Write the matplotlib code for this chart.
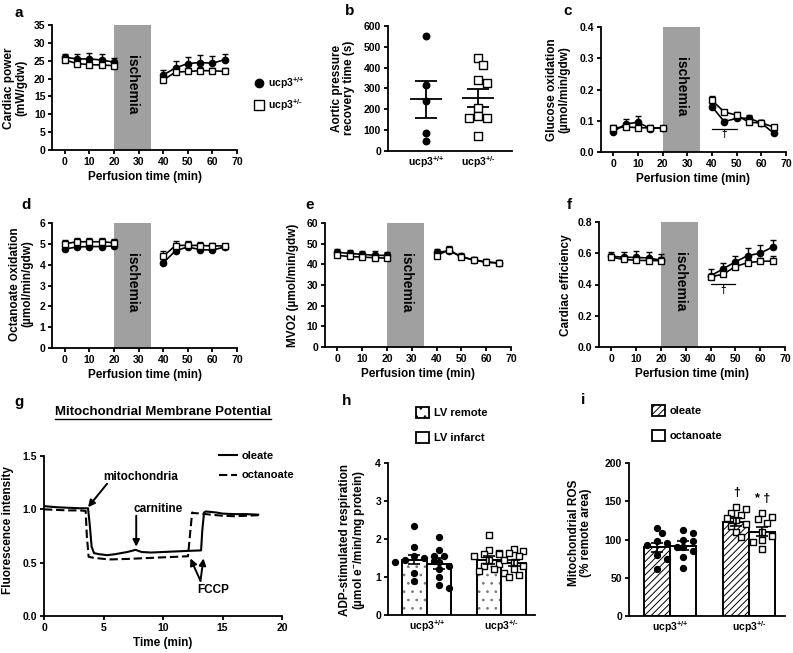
import matplotlib
matplotlib.use('Agg')
import matplotlib.pyplot as plt
from matplotlib.lines import Line2D
from matplotlib.patches import Patch
import numpy as np

plt.rcParams['font.family'] = ['Liberation Sans', 'DejaVu Sans']
plt.rcParams['font.weight'] = 'bold'
plt.rcParams['axes.labelweight'] = 'bold'
plt.rcParams['mathtext.fontset'] = 'custom'
plt.rcParams['mathtext.rm'] = 'Liberation Sans:bold'
plt.rcParams['mathtext.bf'] = 'Liberation Sans:bold'
plt.rcParams['mathtext.default'] = 'rm'
plt.rcParams['axes.linewidth'] = 1.3
plt.rcParams['xtick.major.width'] = 1.3
plt.rcParams['ytick.major.width'] = 1.3
plt.rcParams['xtick.major.size'] = 3
plt.rcParams['ytick.major.size'] = 3
plt.rcParams['xtick.labelsize'] = 7.5
plt.rcParams['ytick.labelsize'] = 7.5
plt.rcParams['hatch.linewidth'] = 0.7

W, H = 793, 653
BAND = '#a0a0a0'

# ---- data: perfusion time courses ----
t_pre = [0, 5, 10, 15, 20]
t_post = [40, 45, 50, 55, 60, 65]

power_wt = [26.0, 25.5, 25.5, 25.2, 24.6, 21.0, 23.0, 24.2, 24.5, 24.3, 25.3]
power_wt_err = [1.0, 1.5, 1.8, 1.6, 1.2, 1.5, 2.0, 1.8, 2.0, 2.0, 1.5]
power_ko = [25.2, 24.2, 23.9, 23.8, 23.6, 19.6, 21.8, 22.0, 22.2, 22.2, 22.0]
power_ko_err = [0.8, 0.9, 0.9, 0.8, 0.8, 0.8, 0.9, 0.9, 1.0, 0.9, 1.0]

gluc_wt = [0.065, 0.090, 0.095, 0.075, 0.078, 0.145, 0.097, 0.108, 0.108, 0.093, 0.060]
gluc_wt_err = [0.008, 0.015, 0.020, 0.008, 0.005, 0.010, 0.008, 0.008, 0.010, 0.008, 0.005]
gluc_ko = [0.077, 0.080, 0.078, 0.077, 0.077, 0.165, 0.128, 0.118, 0.095, 0.093, 0.080]
gluc_ko_err = [0.008, 0.008, 0.008, 0.008, 0.005, 0.015, 0.008, 0.010, 0.008, 0.008, 0.008]

octa_wt = [4.75, 4.85, 4.87, 4.87, 4.90, 4.08, 4.67, 4.85, 4.72, 4.70, 4.85]
octa_wt_err = [0.1, 0.1, 0.1, 0.1, 0.1, 0.1, 0.1, 0.1, 0.1, 0.1, 0.1]
octa_ko = [5.00, 5.10, 5.10, 5.10, 5.05, 4.40, 4.92, 4.93, 4.92, 4.90, 4.90]
octa_ko_err = [0.2, 0.2, 0.2, 0.2, 0.2, 0.25, 0.2, 0.2, 0.15, 0.15, 0.1]

mvo2_wt = [45.8, 45.3, 44.8, 44.4, 44.3, 45.8, 46.5, 43.8, 42.0, 41.0, 40.8]
mvo2_wt_err = [1.5, 1.5, 1.5, 2.0, 1.5, 1.5, 2.0, 1.5, 1.5, 1.5, 1.5]
mvo2_ko = [44.3, 43.8, 43.5, 43.2, 43.0, 44.2, 47.0, 43.5, 42.2, 41.2, 40.5]
mvo2_ko_err = [1.0, 1.0, 1.0, 1.0, 1.0, 1.0, 2.0, 1.0, 1.0, 1.0, 1.0]

eff_wt = [0.580, 0.575, 0.573, 0.570, 0.555, 0.455, 0.500, 0.545, 0.585, 0.600, 0.640]
eff_wt_err = [0.03, 0.035, 0.04, 0.04, 0.04, 0.045, 0.04, 0.04, 0.05, 0.055, 0.045]
eff_ko = [0.575, 0.560, 0.555, 0.553, 0.553, 0.450, 0.465, 0.515, 0.540, 0.548, 0.550]
eff_ko_err = [0.02, 0.02, 0.02, 0.02, 0.02, 0.02, 0.02, 0.02, 0.02, 0.02, 0.035]

# ---- data: aortic pressure recovery ----
recov_wt = [550, 315, 240, 88, 47]
recov_ko = [445, 415, 340, 325, 208, 170, 160, 158, 73]

# ---- data: membrane potential traces ----
ole_t = [0, 1, 2, 3, 3.7, 3.85, 4.0, 4.2, 4.6, 5.3, 6, 7, 7.7, 8.2, 9, 10, 11, 12,
         13.2, 13.3, 13.45, 13.6, 14.5, 15, 16, 17, 18]
ole_v = [1.03, 1.02, 1.015, 1.01, 1.01, 0.85, 0.65, 0.59, 0.58, 0.57, 0.58, 0.60, 0.62,
         0.60, 0.595, 0.60, 0.605, 0.61, 0.615, 0.80, 0.97, 0.98, 0.97, 0.96, 0.955, 0.955, 0.95]
oct_t = [0, 1, 2, 3, 3.5, 3.6, 3.75, 4.2, 5.5, 7, 8, 10, 12.1, 12.3, 12.45, 12.6, 13.3,
         14, 15, 16, 17, 18]
oct_v = [1.0, 0.995, 0.99, 0.99, 0.985, 0.75, 0.555, 0.545, 0.53, 0.535, 0.54, 0.55, 0.56,
         0.80, 0.97, 0.965, 0.96, 0.95, 0.94, 0.935, 0.94, 0.945]

# ---- data: respiration (h) and ROS (i) ----
groups = [r'ucp3$^{\text{+/+}}$', r'ucp3$^{\text{+/-}}$']
resp_remote = [1.45, 1.45]
resp_remote_err = [0.12, 0.10]
resp_infarct = [1.35, 1.38]
resp_infarct_err = [0.14, 0.08]
resp_pts_remote = [[2.35, 1.8, 1.55, 1.5, 1.45, 1.42, 1.4, 1.1, 0.9],
                   [2.1, 1.72, 1.62, 1.6, 1.55, 1.45, 1.35, 1.3, 1.2, 1.15, 1.1]]
resp_pts_infarct = [[2.05, 1.7, 1.55, 1.55, 1.4, 1.3, 1.2, 1.0, 0.8, 0.72],
                    [1.75, 1.68, 1.62, 1.6, 1.55, 1.45, 1.4, 1.3, 1.2, 1.05, 1.0]]

ros_oleate = [90, 123]
ros_oleate_err = [6, 5]
ros_octanoate = [92, 110]
ros_octanoate_err = [6, 6]
ros_pts_oleate = [[115, 108, 98, 95, 93, 90, 80, 75, 62],
                  [143, 140, 135, 132, 128, 125, 120, 118, 110, 103]]
ros_pts_octanoate = [[113, 108, 100, 98, 90, 85, 77, 63],
                     [135, 130, 127, 122, 110, 105, 100, 97, 87]]

fig = plt.figure(figsize=(W / 100, H / 100), dpi=100, facecolor='white')


def box(l, t, r, b):
    return [l / W, 1 - b / H, (r - l) / W, (b - t) / H]


def px(x, y):
    return x / W, 1 - y / H


def style(ax):
    ax.spines['top'].set_visible(False)
    ax.spines['right'].set_visible(False)
    ax.tick_params(direction='out', pad=2)
    for lab in ax.get_xticklabels() + ax.get_yticklabels():
        lab.set_fontweight('bold')


def ylab(x, y, s, size=8.5):
    fig.text(*px(x, y), s, rotation=90, ha='center', va='center',
             multialignment='center', fontsize=size, fontweight='bold', linespacing=1.05)


def panel(x, y, s):
    fig.text(*px(x, y), s, ha='center', va='center', fontsize=11, fontweight='bold')


def swarm(ax, vals, center, size=6.5, step=0.6):
    # simple non-overlapping layout in pixel space
    bb = ax.get_window_extent()
    x0, x1 = ax.get_xlim()
    y0, y1 = ax.get_ylim()
    sx = bb.width / (x1 - x0)
    sy = bb.height / (y1 - y0)
    placed = []
    xs = []
    for v in vals:
        for k in [0, 1, -1, 2, -2, 3, -3, 4, -4]:
            dx = k * size * step
            ok = all((dx - p[0]) ** 2 + ((v - p[1]) * sy) ** 2 >= size ** 2 for p in placed)
            if ok:
                break
        placed.append((dx, v))
        xs.append(center + dx / sx)
    return xs


def timecourse(ax, wt, wt_err, ko, ko_err, ymax, ystep, fmt):
    ax.axvspan(20, 35, color=BAND, zorder=0, lw=0)
    for sl, tt in [(slice(0, 5), t_pre), (slice(5, 11), t_post)]:
        w = np.array(wt[sl]); we = np.array(wt_err[sl])
        k = np.array(ko[sl]); ke = np.array(ko_err[sl])
        ax.errorbar(tt, w, yerr=[np.zeros_like(we), we], fmt='none', ecolor='black',
                    elinewidth=1, capsize=2.5, capthick=1, zorder=2)
        ax.errorbar(tt, k, yerr=[np.zeros_like(ke), ke], fmt='none', ecolor='black',
                    elinewidth=1, capsize=2.5, capthick=1, zorder=2)
        ax.plot(tt, w, '-o', color='black', lw=1.2, ms=4.5, zorder=3)
        ax.plot(tt, k, '-s', color='black', mfc='white', mec='black', mew=1,
                lw=1.2, ms=5, zorder=4)
    ax.set_xlim(-5, 70)
    ax.set_ylim(0, ymax)
    ax.set_xticks(range(0, 71, 10))
    ax.set_yticks(np.arange(0, ymax + ystep / 2, ystep))
    ax.yaxis.set_major_formatter(matplotlib.ticker.FormatStrFormatter(fmt))
    ax.text(27.5, ymax * 0.52, 'ischemia', rotation=-90, ha='center', va='center',
            fontsize=10, fontweight='bold')
    ax.set_xlabel('Perfusion time (min)', fontsize=8.5, labelpad=3)
    style(ax)


# ---- a ----
ax_a = fig.add_axes(box(52.5, 25, 237, 150))
timecourse(ax_a, power_wt, power_wt_err, power_ko, power_ko_err, 35, 5, '%d')
ylab(15, 88, 'Cardiac power\n(mW/gdw)')
panel(19, 13, 'a')
hdl = [Line2D([], [], marker='o', ls='none', color='black', ms=6),
       Line2D([], [], marker='s', ls='none', mfc='white', mec='black', mew=1, ms=6.5)]
ax_a.legend(hdl, [r'ucp3$^{\text{+/+}}$', r'ucp3$^{\text{+/-}}$'], loc='upper left',
            bbox_to_anchor=px(255, 75), bbox_transform=fig.transFigure, frameon=False,
            fontsize=7.5, handlelength=0.8, handletextpad=0.4, labelspacing=0.6,
            borderpad=0, borderaxespad=0)

# ---- b ----
ax_b = fig.add_axes(box(388, 26, 512, 151))
ax_b.set_xlim(-0.73, 1.65)
ax_b.set_ylim(0, 600)
ax_b.set_yticks(range(0, 601, 100))
ax_b.set_xticks([0, 1])
ax_b.set_xticklabels(groups, fontsize=7.5)
ax_b.tick_params(axis='x', length=0, pad=6)
for i, vals in enumerate([recov_wt, recov_ko]):
    v = np.array(vals)
    m = v.mean()
    se = v.std(ddof=1) / np.sqrt(len(v))
    ax_b.hlines(m, i - 0.31, i + 0.31, color='black', lw=1.3)
    ax_b.errorbar([i], [m], yerr=[[se], [se]], fmt='none', ecolor='black',
                  elinewidth=1.3, capsize=8, capthick=1.3)
    xs = swarm(ax_b, vals, i, size=7.5)
    if i == 0:
        ax_b.scatter(xs, vals, s=22, color='black', zorder=3)
    else:
        ax_b.scatter(xs, vals, s=28, marker='s', facecolor='white', edgecolor='black',
                     lw=1, zorder=3)
style(ax_b)
ylab(343, 88, 'Aortic pressure\nrecovery time (s)')
panel(350, 11, 'b')

# ---- c ----
ax_c = fig.add_axes(box(601, 27, 786, 152))
timecourse(ax_c, gluc_wt, gluc_wt_err, gluc_ko, gluc_ko_err, 0.4, 0.1, '%.1f')
ax_c.plot([40, 50], [0.074, 0.074], color='black', lw=0.9)
ax_c.text(45, 0.058, '†', ha='center', va='center', fontsize=7)
ylab(558, 90, 'Glucose oxidation\n(µmol/min/gdw)')
panel(568, 11, 'c')

# ---- d ----
ax_d = fig.add_axes(box(52.5, 223, 237, 348))
timecourse(ax_d, octa_wt, octa_wt_err, octa_ko, octa_ko_err, 6, 1, '%d')
ylab(21, 284, 'Octanoate oxidation\n(µmol/min/gdw)')
panel(26, 205, 'd')

# ---- e ----
ax_e = fig.add_axes(box(325, 223, 511, 347))
timecourse(ax_e, mvo2_wt, mvo2_wt_err, mvo2_ko, mvo2_ko_err, 60, 10, '%d')
ylab(293, 285, 'MVO2 (µmol/min/gdw)')
panel(310, 205, 'e')

# ---- f ----
ax_f = fig.add_axes(box(599, 222, 785, 347))
timecourse(ax_f, eff_wt, eff_wt_err, eff_ko, eff_ko_err, 0.8, 0.2, '%.1f')
ax_f.plot([40, 50], [0.403, 0.403], color='black', lw=0.9)
ax_f.text(45, 0.365, '†', ha='center', va='center', fontsize=7)
ylab(566, 285, 'Cardiac efficiency')
panel(569, 205, 'f')

# ---- g ----
ax_g = fig.add_axes(box(44, 456, 282, 616))
ax_g.plot(ole_t, ole_v, color='black', lw=1.5, label='oleate')
ax_g.plot(oct_t, oct_v, color='black', lw=1.5, ls=(0, (4, 1.8)), label='octanoate')
ax_g.set_xlim(0, 20)
ax_g.set_ylim(0, 1.5)
ax_g.set_xticks([0, 5, 10, 15, 20])
ax_g.set_yticks([0, 0.5, 1.0, 1.5])
ax_g.yaxis.set_major_formatter(matplotlib.ticker.FormatStrFormatter('%.1f'))
ax_g.set_xlabel('Time (min)', fontsize=8.5, labelpad=3)
arw = dict(arrowstyle='-|>', color='black', lw=1.4, mutation_scale=10, shrinkA=0, shrinkB=0)
ax_g.annotate('', xy=(3.7, 1.02), xytext=(5.3, 1.24), arrowprops=arw)
ax_g.text(8.1, 1.30, 'mitochondria', ha='center', va='center', fontsize=8.5)
ax_g.text(9.6, 1.0, 'carnitine', ha='center', va='center', fontsize=8.5)
ax_g.annotate('', xy=(7.75, 0.65), xytext=(7.75, 0.94), arrowprops=arw)
ax_g.annotate('', xy=(12.3, 0.54), xytext=(13.15, 0.33), arrowprops=arw)
ax_g.annotate('', xy=(13.4, 0.54), xytext=(13.15, 0.33), arrowprops=arw)
ax_g.text(14.25, 0.24, 'FCCP', ha='center', va='center', fontsize=8.5)
ax_g.legend(loc='upper left', bbox_to_anchor=px(219, 451), bbox_transform=fig.transFigure,
            frameon=False, fontsize=8, handlelength=1.6, handletextpad=0.4,
            labelspacing=0.85, borderpad=0, borderaxespad=0)
style(ax_g)
ylab(8, 530, 'Fluorescence intensity')
panel(19, 402, 'g')
ttl = fig.text(*px(163, 412), 'Mitochondrial Membrane Potential', ha='center', va='center',
               fontsize=9.5, fontweight='bold')
fig.canvas.draw()
tb = ttl.get_window_extent()
fig.add_artist(Line2D([tb.x0 / W, tb.x1 / W], [(tb.y0 - 1) / H, (tb.y0 - 1) / H],
                      color='black', lw=1, transform=fig.transFigure))


# ---- h & i: grouped bars ----
def barpanel(ax, m1, e1, m2, e2, p1, p2, ymax, ystep, hatch1, hcol1, groups_lbl):
    x = np.arange(len(m1))
    wdt = 0.33
    ax.set_xlim(-0.52, 1.45)
    ax.set_ylim(0, ymax)
    ax.bar(x - wdt / 2, m1, wdt, color='white', hatch=hatch1, edgecolor=hcol1, lw=0, zorder=1)
    ax.bar(x - wdt / 2, m1, wdt, color='none', edgecolor='black', lw=1.4, zorder=2)
    ax.bar(x + wdt / 2, m2, wdt, color='white', edgecolor='black', lw=1.4, zorder=2)
    ax.errorbar(x - wdt / 2, m1, yerr=e1, fmt='none', ecolor='black', elinewidth=1.2,
                capsize=4, capthick=1.2, zorder=5)
    ax.errorbar(x + wdt / 2, m2, yerr=e2, fmt='none', ecolor='black', elinewidth=1.2,
                capsize=4, capthick=1.2, zorder=5)
    for gi in range(len(m1)):
        for pts, off in [(p1[gi], -wdt / 2), (p2[gi], wdt / 2)]:
            xs = swarm(ax, pts, gi + off, size=6.5, step=0.75)
            if gi == 0:
                ax.scatter(xs, pts, s=18, color='black', zorder=4)
            else:
                ax.scatter(xs, pts, s=22, marker='s', facecolor='white', edgecolor='black',
                           lw=1, zorder=4)
    ax.set_yticks(np.arange(0, ymax + ystep / 2, ystep))
    ax.set_xticks(x)
    ax.set_xticklabels(groups_lbl, fontsize=7.5)
    ax.tick_params(axis='x', length=0, pad=7)
    style(ax)


ax_h = fig.add_axes(box(388, 463, 535, 615))
barpanel(ax_h, resp_remote, resp_remote_err, resp_infarct, resp_infarct_err,
         resp_pts_remote, resp_pts_infarct, 4, 1, '..', '#777777', groups)
ax_h.legend([Patch(facecolor='white', edgecolor='black', hatch='..', lw=1.3),
             Patch(facecolor='white', edgecolor='black', lw=1.3)],
            ['LV remote', 'LV infarct'], loc='upper left', bbox_to_anchor=px(416, 407),
            bbox_transform=fig.transFigure, frameon=False, fontsize=8, handlelength=1.2,
            handleheight=1.2, handletextpad=0.4, labelspacing=1.2, borderpad=0,
            borderaxespad=0)
ylab(353, 540, 'ADP-stimulated respiration\n(µmol e$^{-}$/min/mg protein)')
panel(347, 401, 'h')

ax_i = fig.add_axes(box(629, 463, 785, 616))
barpanel(ax_i, ros_oleate, ros_oleate_err, ros_octanoate, ros_octanoate_err,
         ros_pts_oleate, ros_pts_octanoate, 200, 50, '/////', 'black', groups)
ax_i.text(1 - 0.165, 161, '†', ha='center', va='center', fontsize=9)
ax_i.text(1 + 0.165, 153, '* †', ha='center', va='center', fontsize=9)
ax_i.legend([Patch(facecolor='white', edgecolor='black', hatch='/////', lw=1.3),
             Patch(facecolor='white', edgecolor='black', lw=1.3)],
            ['oleate', 'octanoate'], loc='upper left', bbox_to_anchor=px(652, 405),
            bbox_transform=fig.transFigure, frameon=False, fontsize=8, handlelength=1.2,
            handleheight=1.2, handletextpad=0.4, labelspacing=1.2, borderpad=0,
            borderaxespad=0)
ylab(580, 533, 'Mitochondrial ROS\n(% remote area)')
panel(583, 400, 'i')

fig.savefig('out.png', dpi=100, facecolor='white')
